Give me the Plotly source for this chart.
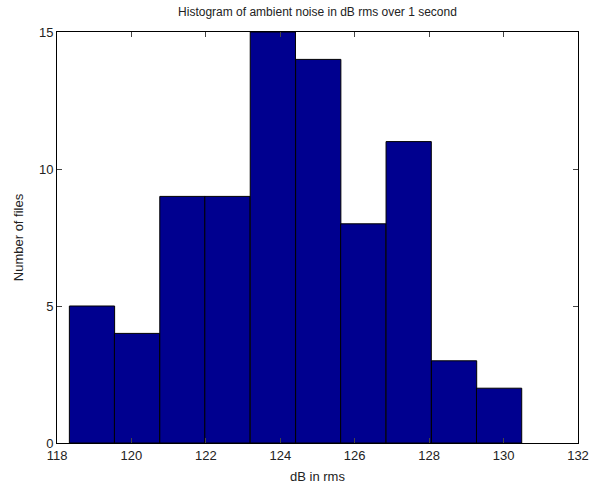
import plotly.graph_objects as go

bin_centers = [118.94, 120.15, 121.37, 122.58, 123.80, 125.02, 126.23, 127.45, 128.67, 129.88]
counts = [5, 4, 9, 9, 15, 14, 8, 11, 3, 2]
bin_width = 1.216
x_ticks = [118, 120, 122, 124, 126, 128, 130, 132]
y_ticks = [0, 5, 10, 15]

fig = go.Figure(go.Bar(
    x=bin_centers, y=counts, width=bin_width,
    marker=dict(color="#00008F", line=dict(color="black", width=1)),
))

font = dict(family="Liberation Sans, Arial, sans-serif", size=13, color="#222")
fig.update_layout(
    width=590, height=486,
    margin=dict(l=57, r=12, t=32, b=43),
    paper_bgcolor="white", plot_bgcolor="white",
    font=font, showlegend=False,
    title=dict(text="Histogram of ambient noise in dB rms over 1 second",
               x=0.5, xref="paper", xanchor="center", y=0.975, yanchor="middle",
               font=dict(size=12)),
)
fig.update_xaxes(
    range=[118, 132], tickvals=x_ticks, ticks="inside", ticklen=5,
    showline=True, linecolor="black", linewidth=1, mirror="ticks",
    showgrid=False, zeroline=False, automargin=False,
    title=dict(text="dB in rms", standoff=10, font=dict(size=13)),
)
fig.update_yaxes(
    range=[0, 15], tickvals=y_ticks, ticks="inside", ticklen=5,
    showline=True, linecolor="black", linewidth=1, mirror="ticks",
    showgrid=False, zeroline=False, automargin=False,
    title=dict(text="Number of files", standoff=12, font=dict(size=13)),
)
fig.write_html("out.html")
